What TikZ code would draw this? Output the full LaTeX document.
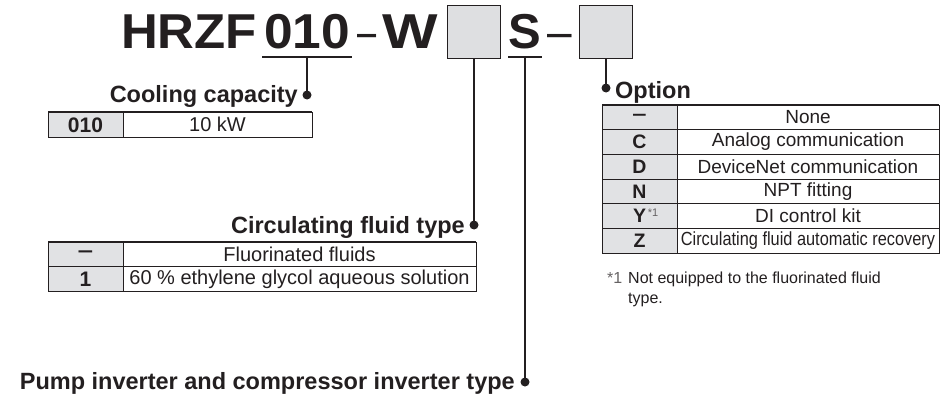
\documentclass[tikz,border=0pt]{standalone}
\usepackage{fontspec}
\usepackage{graphicx}
\newfontfamily\hvfam{Liberation Sans}
\newcommand\fTitle{\hvfam\bfseries\fontsize{49}{49}\selectfont}
\newcommand\fTitleReg{\hvfam\fontsize{49}{49}\selectfont}
\newcommand\fLbl{\hvfam\bfseries\fontsize{23.5}{24}\selectfont}
\newcommand\fCell{\hvfam\fontsize{20}{21}\selectfont}
\newcommand\fKey{\hvfam\bfseries\fontsize{21}{22}\selectfont}
\newcommand\fOCell{\hvfam\fontsize{19}{20}\selectfont}
\newcommand\fOKey{\hvfam\bfseries\fontsize{19.5}{20}\selectfont}
\newcommand\fNote{\hvfam\fontsize{16}{18}\selectfont}
\newcommand\keydash{\scalebox{0.65}[1]{—}}
\definecolor{ink}{HTML}{231F20}
\definecolor{keygrey}{HTML}{E1E2E4}
\definecolor{boxgrey}{HTML}{DEDFE1}
\begin{document}
\begin{tikzpicture}[x=1pt,y=-1pt,
  ttl/.style={font=\fTitle, text=ink, inner sep=0pt},
  lbl/.style={font=\fLbl, text=ink, inner sep=0pt},
  cell/.style={font=\fCell, text=ink, inner sep=0pt},
  keyc/.style={font=\fKey, text=ink, inner sep=0pt},
  ocell/.style={font=\fOCell, text=ink, inner sep=0pt},
  okey/.style={font=\fOKey, text=ink, inner sep=0pt},
  note/.style={font=\fNote, text=ink, inner sep=0pt},
  conn/.style={draw=ink, line width=1.6pt},
  uline/.style={draw=ink, line width=2pt},
  dotn/.style={circle, fill=ink, inner sep=0pt, minimum size=9pt},
  codebox/.style={draw=ink, fill=boxgrey, line width=1.8pt, minimum width=53pt, minimum height=53pt, inner sep=0pt},
  thin/.style={draw=ink, line width=0.9pt},
  thick/.style={draw=ink, line width=2.2pt}
]
\useasboundingbox (0,0) rectangle (942,396);

% ---------- title ----------
\node[ttl, anchor=base west] (hrzf) at (121,48.5) {\scalebox{1.04}[1]{HRZF}};
\node[ttl, anchor=base] (n010) at (307,48.5) {\scalebox{1.05}[1]{010}};
\node[ttl, anchor=base, font=\fTitleReg] (dash1) at (367,48.5) {\scalebox{0.7}[1]{–}};
\node[ttl, anchor=base] (w) at (410,48.5) {\scalebox{1.2}[1]{W}};
\node[codebox] (box1) at (474,32) {};
\node[ttl, anchor=base] (s) at (525,48.5) {S};
\node[ttl, anchor=base, font=\fTitleReg] (dash2) at (560,48.5) {\scalebox{0.9}[1]{–}};
\node[codebox] (box2) at (606,32) {};

\coordinate (u010l) at (262,57);
\coordinate (u010r) at (352,57);
\coordinate (u010) at (307,57);
\draw[uline] (u010l) -- (u010r);
\coordinate (uSl) at (508,57);
\coordinate (uSr) at (542,57);
\coordinate (uS) at (525,57);
\draw[uline] (uSl) -- (uSr);

% ---------- connectors ----------
\node[dotn] (dcool) at (307,95) {};
\draw[conn] (u010) -- (dcool.center);
\node[dotn] (dfluid) at (474,225) {};
\draw[conn] (box1.south) -- (dfluid.center);
\node[dotn] (dpump) at (525,382) {};
\draw[conn] (uS) -- (dpump.center);
\node[dotn] (dopt) at (606,88) {};
\draw[conn] (box2.south) -- (dopt.center);

% ---------- labels ----------
\node[lbl, anchor=base east] (lcool) at (298,102) {Cooling capacity};
\node[lbl, anchor=base east] (lfluid) at (465,233) {Circulating fluid type};
\node[lbl, anchor=base east] (lpump) at (515,389) {Pump inverter and compressor inverter type};
\node[lbl, anchor=base west] (lopt) at (615,98) {Option};

% ---------- table: cooling capacity ----------
\fill[keygrey] (48,112) rectangle (123,137);
\draw[thin] (48,112) rectangle (312,137);
\draw[thin] (123,112) -- (123,137);
\draw[thick] (48,112) -- (312,112);
\node[keyc] (k010) at (85.5,124.8) {010};
\node[cell] (v010) at (217.5,124.8) {10 kW};

% ---------- table: circulating fluid ----------
\fill[keygrey] (48,242) rectangle (123,291);
\draw[thin] (48,242) rectangle (476,291);
\draw[thin] (123,242) -- (123,291);
\draw[thin] (48,266.5) -- (476,266.5);
\draw[thick] (48,242) -- (476,242);
\node[keyc] (kf1) at (85.5,254.5) {\keydash};
\node[cell] (vf1) at (299.5,254.5) {Fluorinated fluids};
\node[keyc] (kf2) at (85.5,279) {1};
\node[cell] (vf2) at (299.5,279) {60 \% ethylene glycol aqueous solution};

% ---------- table: option ----------
\fill[keygrey] (602,105) rectangle (677,253);
\draw[thin] (602,105) rectangle (939,253);
\draw[thin] (677,105) -- (677,253);
\foreach \yy in {129.67,154.33,179,203.67,228.33} {\draw[thin] (602,\yy) -- (939,\yy);}
\draw[thick] (602,105) -- (939,105);
\node[okey] (ko1) at (639.5,117.3) {\keydash};
\node[ocell] (vo1) at (808,117.3) {None};
\node[okey] (ko2) at (639.5,142) {C};
\node[ocell] (vo2) at (808,142) {Analog communication};
\node[okey] (ko3) at (639.5,166.7) {D};
\node[ocell] (vo3) at (808,166.7) {DeviceNet communication};
\node[okey] (ko4) at (639.5,191.3) {N};
\node[ocell] (vo4) at (808,191.3) {NPT fitting};
\node[okey] (ko5) at (639.5,216) {Y};
\node[anchor=base west, inner sep=0pt, font=\hvfam\fontsize{11}{11}\selectfont, text=ink!70] (ko5s) at ([xshift=1.5pt,yshift=6pt]ko5.base east) {*1};
\node[ocell] (vo5) at (808,216) {DI control kit};
\node[okey] (ko6) at (639.5,240.7) {Z};
\node[ocell] (vo6) at (808,240.7) {\scalebox{0.86}[1]{Circulating fluid automatic recovery}};

% ---------- footnote ----------
\node[note, anchor=base west, text=ink!70] (fn1) at (607,283) {*1};
\node[note, anchor=base west] (fn2) at (628,283) {Not equipped to the fluorinated fluid};
\node[note, anchor=base west] (fn3) at (628,303) {type.};
\end{tikzpicture}
\end{document}
